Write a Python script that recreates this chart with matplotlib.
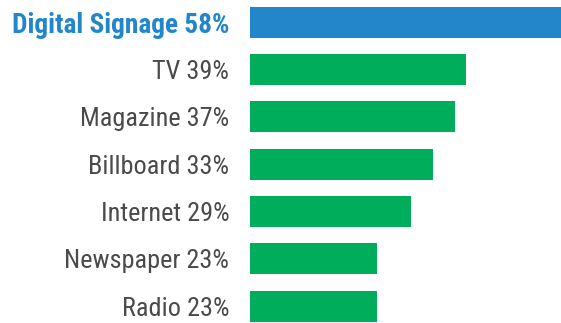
import matplotlib
matplotlib.use("Agg")
import matplotlib.pyplot as plt
from matplotlib import font_manager
from matplotlib.font_manager import FontProperties
from matplotlib.textpath import TextPath

categories = ["Digital Signage", "TV", "Magazine", "Billboard", "Internet", "Newspaper", "Radio"]
values = [58, 39, 37, 33, 29, 23, 23]

# Prefer a condensed sans for the labels
installed = {f.name for f in font_manager.fontManager.ttflist}
candidates = ["Roboto Condensed", "Liberation Sans Narrow", "Archivo Narrow",
              "PT Sans Narrow", "Fira Sans Condensed", "IBM Plex Sans Condensed",
              "Barlow Semi Condensed", "Roboto"]
family = next(f for f in candidates if f in installed)

W, H, DPI = 561, 323, 100
labels = [f"{c} {v}%" for c, v in zip(categories, values)]


def size_for_width(text, width_px, weight):
    # font size (pt) at which the text spans width_px pixels
    fp = FontProperties(family=family, weight=weight, size=10)
    ext = TextPath((0, 0), text, prop=fp).get_extents()
    w10 = ext.width * DPI / 72.0
    return 10 * width_px / w10


size_reg = size_for_width(labels[5], 162, "normal")
size_bold = size_for_width(labels[0], 215, "bold")

fig = plt.figure(figsize=(W / DPI, H / DPI), dpi=DPI)
left = 249.5 / W
ax = fig.add_axes([left, 0, 1 - left, 1])

blue = "#2386cb"
green = "#00ad5b"
colors = [blue] + [green] * (len(values) - 1)

ypos = list(range(len(values)))
ax.barh(ypos, values, height=0.655, color=colors, linewidth=0)

ax.set_xlim(0, 56.1)
ax.set_ylim(6.353, -0.471)
ax.set_xticks([])
ax.set_yticks(ypos)
ax.set_yticklabels(labels, family=family)
ax.tick_params(axis="y", length=0, pad=14.5)
for i, lab in enumerate(ax.get_yticklabels()):
    if i == 0:
        lab.set_color(blue)
        lab.set_fontweight("bold")
        lab.set_fontsize(size_bold)
    else:
        lab.set_color("#4a4a4a")
        lab.set_fontsize(size_reg)
for s in ax.spines.values():
    s.set_visible(False)

fig.savefig("out.png", dpi=DPI)
